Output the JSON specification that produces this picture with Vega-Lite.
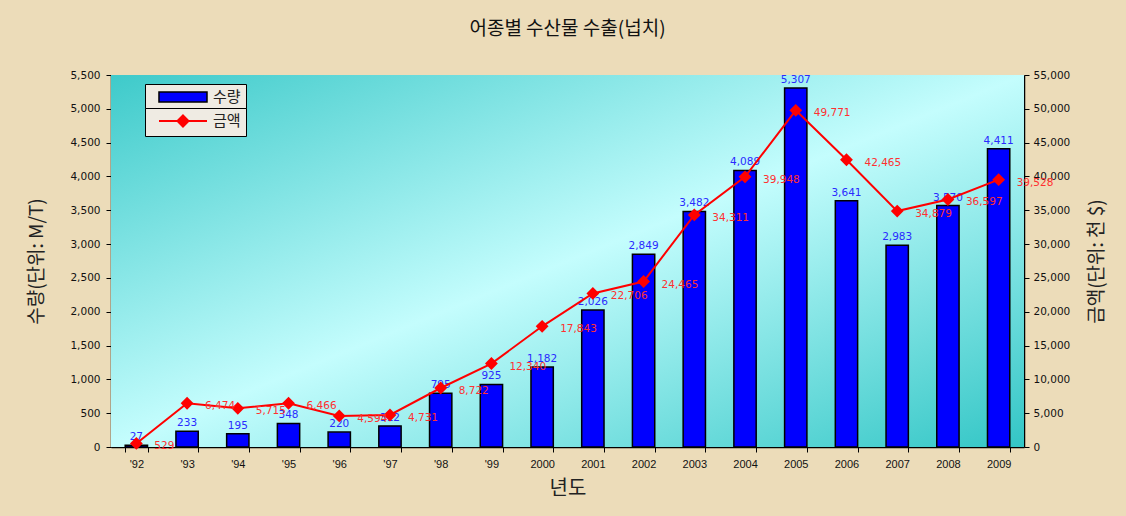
{
  "$schema": "https://vega.github.io/schema/vega-lite/v6.json",
  "width": 913,
  "height": 372,
  "autosize": "none",
  "padding": {"left": 111, "top": 75, "right": 102, "bottom": 69},
  "background": "#ecdcb9",
  "title": {
    "text": "어종별 수산물 수출(넙치)",
    "font": "Noto Sans CJK KR",
    "fontSize": 19,
    "fontWeight": "normal",
    "color": "#111111",
    "anchor": "middle",
    "offset": 31
  },
  "data": {
    "values": [
      {"yr": "'92", "qty": 27, "amt": 529},
      {"yr": "'93", "qty": 233, "amt": 6474},
      {"yr": "'94", "qty": 195, "amt": 5715},
      {"yr": "'95", "qty": 348, "amt": 6466},
      {"yr": "'96", "qty": 220, "amt": 4594},
      {"yr": "'97", "qty": 312, "amt": 4731},
      {"yr": "'98", "qty": 795, "amt": 8722},
      {"yr": "'99", "qty": 925, "amt": 12340},
      {"yr": "2000", "qty": 1182, "amt": 17843},
      {"yr": "2001", "qty": 2026, "amt": 22706},
      {"yr": "2002", "qty": 2849, "amt": 24465},
      {"yr": "2003", "qty": 3482, "amt": 34311},
      {"yr": "2004", "qty": 4089, "amt": 39948},
      {"yr": "2005", "qty": 5307, "amt": 49771},
      {"yr": "2006", "qty": 3641, "amt": 42465},
      {"yr": "2007", "qty": 2983, "amt": 34879},
      {"yr": "2008", "qty": 3570, "amt": 36597},
      {"yr": "2009", "qty": 4411, "amt": 39528}
    ]
  },
  "layer": [
    {
      "data": {"values": [{"bg": 1}]},
      "mark": {
        "type": "rect",
        "color": {
          "gradient": "linear",
          "x1": 0, "y1": 0, "x2": 1, "y2": 1,
          "stops": [
            {"offset": 0, "color": "#3ecaca"},
            {"offset": 0.5, "color": "#c4fdfd"},
            {"offset": 1, "color": "#33c6c6"}
          ]
        }
      },
      "encoding": {}
    },
    {
      "encoding": {
        "x": {
          "field": "yr",
          "type": "nominal",
          "sort": null,
          "scale": {"paddingInner": 0.56, "paddingOuter": 0.28},
          "axis": {
            "title": "년도",
            "titleFont": "Noto Sans CJK KR",
            "titleFontSize": 20,
            "titleFontWeight": "normal",
            "titleColor": "#222222",
            "titlePadding": 9,
            "labelAngle": 0,
            "labelFont": "Liberation Sans",
            "labelFontSize": 11,
            "labelColor": "#111111",
            "labelPadding": 6,
            "tickBand": "extent",
            "tickColor": "#000000",
            "tickSize": 5,
            "domainColor": "#000000",
            "domainWidth": 1.5
          }
        },
        "y": {
          "field": "qty",
          "type": "quantitative",
          "scale": {"domain": [0, 5500], "nice": false},
          "axis": {
            "title": "수량(단위: M/T)",
            "titleFont": "Noto Sans CJK KR",
            "titleFontSize": 19,
            "titleFontWeight": "normal",
            "titleColor": "#222222",
            "titlePadding": 23,
            "values": [0, 500, 1000, 1500, 2000, 2500, 3000, 3500, 4000, 4500, 5000, 5500],
            "format": ",d",
            "labelFont": "DejaVu Sans",
            "labelFontSize": 10.5,
            "labelColor": "#111111",
            "labelPadding": 6,
            "grid": false,
            "tickColor": "#000000",
            "tickSize": 5,
            "domainColor": "#000000",
            "domainWidth": 1.5
          }
        }
      },
      "layer": [
        {
          "mark": {"type": "bar", "stroke": "#000000", "strokeWidth": 1.5},
          "encoding": {
            "fill": {
              "datum": "수량",
              "scale": {"range": ["#0000ff"]},
              "legend": {
                "title": null,
                "orient": "none",
                "legendX": 34,
                "legendY": 9,
                "fillColor": "#efebe3",
                "strokeColor": "#000000",
                "padding": 5,
                "symbolSize": 196,
                "symbolType": "M0.14,-0.71L7,-0.71L7,0.71L0.14,0.71Z",
                "symbolStrokeColor": "#000000",
                "symbolStrokeWidth": 1.5,
                "symbolOpacity": 1,
                "labelFont": "Noto Sans CJK KR",
                "labelFontSize": 15,
                "labelColor": "#222222",
                "labelOffset": 47
              }
            }
          }
        },
        {
          "mark": {"type": "text", "dy": -8, "color": "#2a2aff", "font": "DejaVu Sans", "fontSize": 10.5},
          "encoding": {
            "text": {"field": "qty", "type": "quantitative", "format": ","}
          }
        }
      ]
    },
    {
      "encoding": {
        "x": {
          "field": "yr",
          "type": "nominal",
          "sort": null
        },
        "y": {
          "field": "amt",
          "type": "quantitative",
          "scale": {"domain": [0, 55000], "nice": false},
          "axis": {
            "orient": "right",
            "title": "금액(단위: 천 $)",
            "titleAngle": 270,
            "titleBaseline": "top",
            "titleFont": "Noto Sans CJK KR",
            "titleFontSize": 19,
            "titleFontWeight": "normal",
            "titleColor": "#222222",
            "titlePadding": 18,
            "values": [0, 5000, 10000, 15000, 20000, 25000, 30000, 35000, 40000, 45000, 50000, 55000],
            "format": ",d",
            "labelFont": "DejaVu Sans",
            "labelFontSize": 10.5,
            "labelColor": "#111111",
            "labelPadding": 4,
            "grid": false,
            "tickColor": "#000000",
            "tickSize": 5,
            "domainColor": "#000000",
            "domainWidth": 1.5
          }
        }
      },
      "layer": [
        {
          "mark": {"type": "line", "strokeWidth": 2, "point": {"shape": "diamond", "size": 100, "filled": true, "fill": "#ff0000", "stroke": "#ff0000"}},
          "encoding": {
            "stroke": {
              "datum": "금액",
              "scale": {"range": ["#ff0000"]},
              "legend": {
                "title": null,
                "orient": "none",
                "legendX": 34,
                "legendY": 33,
                "fillColor": "#efebe3",
                "strokeColor": "#000000",
                "padding": 5,
                "symbolSize": 196,
                "symbolType": "M0.14,0L7,0M3.57,-0.79L4.36,0L3.57,0.79L2.78,0Z",
                "symbolFillColor": "#ff0000",
                "symbolStrokeWidth": 2,
                "symbolOpacity": 1,
                "labelFont": "Noto Sans CJK KR",
                "labelFontSize": 15,
                "labelColor": "#222222",
                "labelOffset": 47
              }
            }
          }
        },
        {
          "mark": {"type": "text", "align": "left", "dx": 18, "dy": 3, "color": "#ff3030", "font": "DejaVu Sans", "fontSize": 10.5},
          "encoding": {
            "text": {"field": "amt", "type": "quantitative", "format": ","}
          }
        }
      ]
    }
  ],
  "resolve": {"scale": {"y": "independent"}},
  "config": {
    "view": {
      "stroke": "#8a8a8a",
      "strokeWidth": 1
    }
  }
}
